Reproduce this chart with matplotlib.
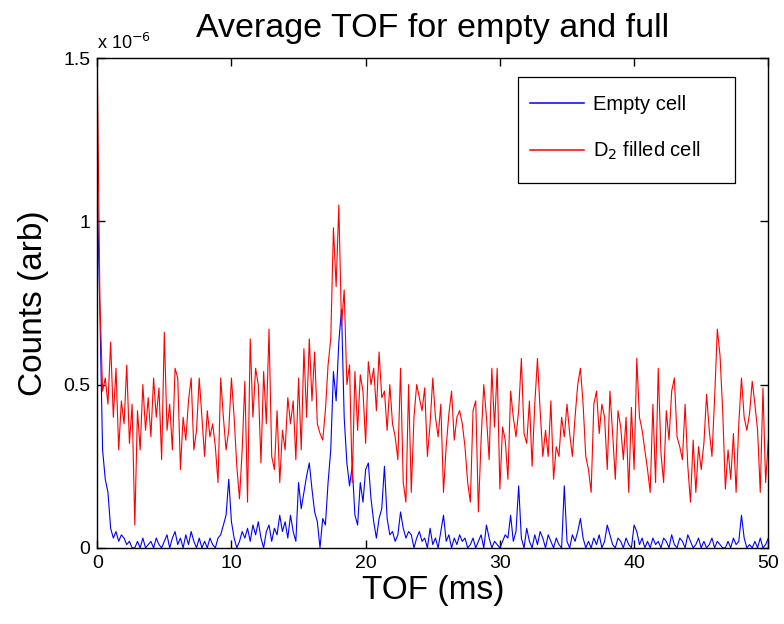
import numpy as np
import matplotlib
matplotlib.use("Agg")
import matplotlib.pyplot as plt
from matplotlib.patches import Rectangle

plt.rcParams['font.family'] = ['Liberation Sans', 'DejaVu Sans']

# TOF axis (ms), 0.2 ms steps
tof = [round(0.2 * i, 1) for i in range(251)]

# Counts in units of 1e-6
empty_cell = [
    1.1, 0.72, 0.30, 0.21, 0.17,
    0.06, 0.03, 0.05, 0.02, 0.04,
    0.03, 0.01, 0.02, 0.0, 0.0,
    0.02, 0.0, 0.03, 0.0, 0.01,
    0.02, 0.0, 0.03, 0.01, 0.0,
    0.02, 0.04, 0.0, 0.03, 0.05,
    0.01, 0.03, 0.0, 0.04, 0.01,
    0.05, 0.02, 0.0, 0.03, 0.0,
    0.02, 0.0, 0.03, 0.01, 0.0,
    0.03, 0.04, 0.07, 0.10, 0.21,
    0.08, 0.03, 0.0, 0.02, 0.05,
    0.03, 0.06, 0.02, 0.07, 0.04,
    0.08, 0.03, 0.0, 0.05, 0.07,
    0.02, 0.06, 0.04, 0.10, 0.05,
    0.08, 0.03, 0.10, 0.05, 0.02,
    0.20, 0.12, 0.17, 0.22, 0.26,
    0.18, 0.11, 0.08, 0.0, 0.09,
    0.07, 0.20, 0.30, 0.54, 0.45,
    0.63, 0.73, 0.40, 0.26, 0.19,
    0.25, 0.10, 0.07, 0.20, 0.14,
    0.24, 0.26, 0.15, 0.08, 0.03,
    0.09, 0.12, 0.25, 0.09, 0.04,
    0.05, 0.02, 0.04, 0.11, 0.06,
    0.03, 0.05, 0.04, 0.0, 0.03,
    0.05, 0.02, 0.03, 0.0, 0.06,
    0.01, 0.03, 0.0, 0.05, 0.10,
    0.02, 0.04, 0.0, 0.03, 0.01,
    0.04, 0.02, 0.03, 0.0, 0.01,
    0.03, 0.0, 0.02, 0.04, 0.0,
    0.07, 0.03, 0.0, 0.02, 0.01,
    0.0, 0.02, 0.04, 0.03, 0.10,
    0.02, 0.05, 0.19, 0.03, 0.0,
    0.06, 0.02, 0.0, 0.04, 0.01,
    0.05, 0.03, 0.0, 0.04, 0.02,
    0.0, 0.03, 0.01, 0.0, 0.19,
    0.02, 0.0, 0.04, 0.02, 0.05,
    0.09, 0.03, 0.0, 0.02, 0.0,
    0.03, 0.01, 0.04, 0.0, 0.02,
    0.07, 0.04, 0.01, 0.0, 0.03,
    0.02, 0.0, 0.03, 0.01, 0.0,
    0.07, 0.05, 0.01, 0.03, 0.0,
    0.02, 0.0, 0.03, 0.01, 0.02,
    0.0, 0.03, 0.02, 0.0, 0.04,
    0.01, 0.0, 0.03, 0.02, 0.0,
    0.04, 0.02, 0.0, 0.01, 0.03,
    0.0, 0.02, 0.0, 0.01, 0.03,
    0.0, 0.02, 0.01, 0.0, 0.0,
    0.02, 0.0, 0.03, 0.01, 0.02,
    0.10, 0.03, 0.0, 0.01, 0.0,
    0.02, 0.0, 0.03, 0.0, 0.01,
    0.03,
]

d2_filled = [
    1.5, 0.76, 0.48, 0.52, 0.44,
    0.63, 0.40, 0.55, 0.30, 0.45,
    0.38, 0.56, 0.32, 0.44, 0.07,
    0.42, 0.30, 0.50, 0.36, 0.46,
    0.34, 0.52, 0.40, 0.49, 0.27,
    0.66, 0.36, 0.44, 0.30, 0.55,
    0.52, 0.24, 0.40, 0.33, 0.45,
    0.52, 0.30, 0.36, 0.52, 0.40,
    0.28, 0.42, 0.34, 0.38, 0.31,
    0.20, 0.52, 0.40, 0.30, 0.36,
    0.52, 0.40, 0.25, 0.15, 0.30,
    0.51, 0.14, 0.64, 0.40, 0.55,
    0.50, 0.26, 0.54, 0.38, 0.67,
    0.28, 0.24, 0.42, 0.20, 0.36,
    0.30, 0.46, 0.38, 0.45, 0.27,
    0.52, 0.30, 0.61, 0.40, 0.64,
    0.45, 0.60, 0.38, 0.35, 0.33,
    0.42, 0.56, 0.64, 0.98, 0.80,
    1.05, 0.68, 0.79, 0.50, 0.56,
    0.20, 0.54, 0.36, 0.53, 0.48,
    0.32, 0.57, 0.50, 0.55, 0.42,
    0.60, 0.46, 0.48, 0.36, 0.50,
    0.38, 0.34, 0.27, 0.55, 0.20,
    0.14, 0.50, 0.17, 0.40, 0.50,
    0.46, 0.42, 0.49, 0.28, 0.38,
    0.52, 0.40, 0.34, 0.44, 0.17,
    0.31, 0.41, 0.48, 0.33, 0.40,
    0.42, 0.38, 0.31, 0.20, 0.14,
    0.42, 0.45, 0.11, 0.33, 0.50,
    0.40, 0.27, 0.55, 0.37, 0.55,
    0.18, 0.37, 0.33, 0.21, 0.48,
    0.40, 0.34, 0.42, 0.58, 0.35,
    0.32, 0.45, 0.25, 0.44, 0.58,
    0.42, 0.28, 0.36, 0.28, 0.45,
    0.21, 0.31, 0.28, 0.40, 0.34,
    0.44, 0.35, 0.28, 0.40, 0.50,
    0.55, 0.44, 0.28, 0.24, 0.17,
    0.44, 0.48, 0.35, 0.44, 0.40,
    0.24, 0.48, 0.35, 0.21, 0.42,
    0.37, 0.27, 0.40, 0.17, 0.43,
    0.24, 0.58, 0.40, 0.36, 0.30,
    0.24, 0.17, 0.44, 0.20, 0.55,
    0.29, 0.20, 0.42, 0.33, 0.48,
    0.52, 0.34, 0.31, 0.27, 0.44,
    0.25, 0.14, 0.33, 0.17, 0.31,
    0.24, 0.32, 0.47, 0.36, 0.28,
    0.46, 0.67, 0.59, 0.42, 0.18,
    0.30, 0.21, 0.35, 0.17, 0.38,
    0.52, 0.40, 0.36, 0.41, 0.51,
    0.44, 0.36, 0.17, 0.49, 0.20,
    0.33,
]

x_ticks = [0, 10, 20, 30, 40, 50]
y_ticks = [0, 0.5, 1, 1.5]
y_tick_labels = ['0', '0.5', '1', '1.5']

fig = plt.figure(figsize=(7.84, 6.24), dpi=100)
ax = fig.add_axes([0.124, 0.122, 0.856, 0.785])

ax.plot(tof, empty_cell, color='#0000ff', lw=0.8, label='Empty cell')
ax.plot(tof, d2_filled, color='#ff0000', lw=0.8, label='D$_2$ filled cell')

ax.set_xlim(0, 50)
ax.set_ylim(0, 1.5)
ax.set_xticks(x_ticks)
ax.set_yticks(y_ticks)
ax.set_yticklabels(y_tick_labels)
ax.tick_params(direction='in', top=True, right=True, length=6, width=1,
               labelsize=14, pad=5)
for s in ax.spines.values():
    s.set_linewidth(1)

ax.set_title('Average TOF for empty and full', fontsize=24.5, pad=15)
ax.set_xlabel('TOF (ms)', fontsize=24, labelpad=2)
ax.set_ylabel('Counts (arb)', fontsize=24, labelpad=10)
ax.text(0.0, 1.01, r'x 10$^{-6}$', transform=ax.transAxes, fontsize=13,
        ha='left', va='bottom')

# legend frame drawn as a box, legend entries inside without frame
ax.add_patch(Rectangle((0.627, 0.745), 0.324, 0.216, transform=ax.transAxes,
                       facecolor='white', edgecolor='black', lw=0.9, zorder=4))
leg = ax.legend(loc='upper left', bbox_to_anchor=(0.645, 0.925), fontsize=14.5,
                frameon=False, handlelength=2.7, handletextpad=0.4,
                labelspacing=1.3, borderpad=0, borderaxespad=0)
leg.set_zorder(5)
for h in leg.get_lines():
    h.set_linewidth(1.1)

fig.savefig('out.png', dpi=100)
